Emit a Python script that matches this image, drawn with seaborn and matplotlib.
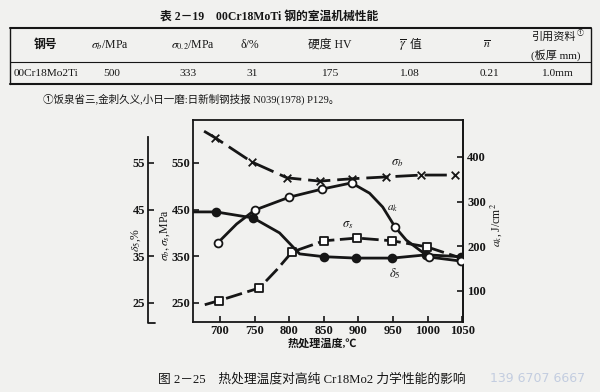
import matplotlib
matplotlib.use("Agg")
import matplotlib.pyplot as plt
from matplotlib.lines import Line2D
import pandas as pd
import seaborn as sns

# ---- table 2-19 ----
table_title = "表 2－19　00Cr18MoTi 钢的室温机械性能"
head_labels = ["钢号", r"$\sigma_b$/MPa", r"$\sigma_{0.2}$/MPa", "δ/%", "硬度 HV", "值", r"$\overline{n}$", "引用资料"]
row_values = ["00Cr18Mo2Ti", "500", "333", "31", "175", "1.08", "0.21", "1.0mm"]
footnote = "①饭泉省三,金刺久义,小日一磨:日新制钢技报 N039(1978) P129。"

# ---- figure 2-25 ----
caption = "图 2－25　热处理温度对高纯 Cr18Mo2 力学性能的影响"
x_ticks = [700, 750, 800, 850, 900, 950, 1000, 1050]
sig_ticks = [250, 350, 450, 550]
delta_ticks = [25, 35, 45, 55]
ak_ticks = [100, 200, 300, 400]

# sigma_b (MPa), x markers
sb_t = [693, 746, 797, 844, 890, 940, 991, 1039]
sb_v = [604, 552, 518, 511, 516, 520, 524, 524]
sb_curve_t = [677]
sb_curve_v = [618]

# sigma_s (MPa), open squares
ss_t = [699, 757, 804, 850, 898, 949, 999]
ss_v = [255, 282, 359, 383, 389, 383, 370]
ss_curve_t = [678, 782, 1048]
ss_curve_v = [246, 321, 346]

# delta_5 (%), filled circles
d5_t = [694, 748, 850, 896, 949, 998, 1048]
d5_v = [44.5, 43.2, 34.9, 34.6, 34.6, 35.3, 34.9]
d5_curve_t = [661, 786, 815]
d5_curve_v = [44.5, 40.0, 35.5]

# a_k (J/cm2), open circles
ak_t = [697, 750, 800, 847, 890, 953, 1002, 1048]
ak_v = [208, 281, 310, 328, 342, 243, 176, 167]
ak_curve_t = [724, 916, 935, 969, 988]
ak_curve_v = [250, 319, 288, 214, 192]

W, H = 600, 392
def fx(x):
    return x / W
def fy(y):
    return 1 - y / H

sns.set_style("ticks")
plt.rcParams["font.family"] = ["Liberation Serif", "Noto Sans CJK SC", "DejaVu Sans"]
plt.rcParams["mathtext.fontset"] = "stix"
plt.rcParams["axes.unicode_minus"] = False
ink = "#161616"
paper = "#f1f1ef"

fig = plt.figure(figsize=(6, 3.92), dpi=100, facecolor=paper)

def hline(x0, x1, y, lw):
    fig.add_artist(Line2D([fx(x0), fx(x1)], [fy(y), fy(y)], color=ink, lw=lw))

def vline(x, y0, y1, lw):
    fig.add_artist(Line2D([fx(x), fx(x)], [fy(y0), fy(y1)], color=ink, lw=lw))

# table
fig.text(fx(269), fy(17), table_title, ha="center", va="center", fontsize=8.5, weight="bold", color=ink)
hline(10, 591, 28, 1.5)
hline(10, 591, 62, 0.8)
hline(10, 591, 84, 1.5)
vline(10, 28, 84, 1.0)
vline(591, 28, 84, 1.0)

head_x = [45, 110, 193, 250, 330, 416, 487, 553]
for i, (x, s) in enumerate(zip(head_x, head_labels)):
    if i == 7:
        fig.text(fx(x), fy(37), s, ha="center", va="center", fontsize=8, color=ink)
        fig.text(fx(x + 24), fy(33), "①", ha="left", va="center", fontsize=5, color=ink)
        fig.text(fx(x + 3), fy(55), "(板厚 mm)", ha="center", va="center", fontsize=8, color=ink)
    else:
        w = "bold" if i == 0 else "normal"
        fig.text(fx(x), fy(45), s, ha="center", va="center", fontsize=8.5, color=ink, weight=w)
fig.text(fx(403), fy(45), r"$\overline{\gamma}$", ha="center", va="center", fontsize=9, color=ink)

row_x = [46, 112, 188, 252, 330, 409, 490, 557]
for x, s in zip(row_x, row_values):
    fig.text(fx(x), fy(73), s, ha="center", va="center", fontsize=8.2, color=ink)

fig.text(fx(43), fy(99), footnote, ha="left", va="center", fontsize=7.6, color=ink)

# chart axes
ax = fig.add_axes([fx(193), fy(322), (463 - 193) / W, (322 - 120) / H])
ax.set_facecolor("none")
ax_d = ax.twinx()
ax_a = ax.twinx()


def draw(axis, t, v, ct, cv, dash, marker, face, size):
    line = pd.DataFrame({"t": t + ct, "v": v + cv}).sort_values("t")
    sns.lineplot(data=line, x="t", y="v", ax=axis, color=ink, lw=2.0,
                 linestyle=dash, estimator=None, sort=True)
    sns.scatterplot(x=t, y=v, ax=axis, marker=marker, s=size, color=face,
                    edgecolor=ink, linewidth=1.3, zorder=5)
    axis.set_xlabel("")
    axis.set_ylabel("")


draw(ax, sb_t, sb_v, sb_curve_t, sb_curve_v, (0, (8, 2.5)), "x", ink, 30)
draw(ax, ss_t, ss_v, ss_curve_t, ss_curve_v, (0, (6, 2)), "s", "white", 38)
draw(ax_d, d5_t, d5_v, d5_curve_t, d5_curve_v, "-", "o", ink, 32)
draw(ax_a, ak_t, ak_v, ak_curve_t, ak_curve_v, "-", "o", "white", 32)

ax.set_xlim(661, 1051)
ax.set_ylim(209, 642)
ax.set_xticks(x_ticks)
ax.set_yticks(sig_ticks)
ax.tick_params(direction="in", length=4, width=1.2, colors=ink, pad=2, labelsize=9)
for sp in ax.spines.values():
    sp.set_linewidth(1.3)
    sp.set_color(ink)

ax_d.set_ylim(20.9, 64.2)
ax_d.yaxis.tick_left()
ax_d.set_yticks(delta_ticks)
ax_d.tick_params(axis="y", direction="in", length=4, width=1.2, colors=ink, pad=2, labelsize=9)
for k in ["right", "top", "bottom"]:
    ax_d.spines[k].set_visible(False)
ax_d.spines["left"].set_visible(True)
ax_d.spines["left"].set_position(("axes", -45 / 270))
ax_d.spines["left"].set_bounds(20.9, 60.6)
ax_d.spines["left"].set_linewidth(1.3)
ax_d.spines["left"].set_color(ink)
hline(148, 155, 322.5, 1.3)

ax_a.set_ylim(30.6, 482.8)
ax_a.set_yticks(ak_ticks)
ax_a.tick_params(axis="y", direction="in", length=4, width=1.2, colors=ink, pad=3, labelsize=9)
for k in ["left", "top", "bottom"]:
    ax_a.spines[k].set_visible(False)
ax_a.spines["right"].set_linewidth(1.3)
ax_a.spines["right"].set_color(ink)

for a in [ax, ax_d, ax_a]:
    for lab in a.get_xticklabels() + a.get_yticklabels():
        lab.set_fontweight("bold")

# curve names
ax.text(956, 550, r"$\sigma_b$", fontsize=9, ha="center", va="center", color=ink)
ax.text(949, 452, r"$a_k$", fontsize=8, ha="center", va="center", color=ink)
ax.text(884, 417, r"$\sigma_s$", fontsize=9, ha="center", va="center", color=ink)
ax.text(952, 312, r"$\delta_5$", fontsize=9, ha="center", va="center", color=ink)

# axis titles
fig.text(fx(136), fy(240), r"$\delta_5$,%", rotation=90, ha="center", va="center", fontsize=8.5, color=ink)
fig.text(fx(165), fy(235), r"$\sigma_b,\sigma_s$,MPa", rotation=90, ha="center", va="center", fontsize=8.5, color=ink)
fig.text(fx(496), fy(225), r"$a_k$, J/cm$^2$", rotation=90, ha="center", va="center", fontsize=8.5, color=ink)
fig.text(fx(322), fy(343), "热处理温度,℃", ha="center", va="center", fontsize=8, weight="bold", color=ink)

fig.text(fx(312), fy(379), caption, ha="center", va="center", fontsize=9.2, color=ink)
fig.text(fx(538), fy(378), "139 6707 6667", ha="center", va="center", fontsize=9,
         color="#c3cde0", family="DejaVu Sans")

fig.savefig("out.png", dpi=100, facecolor=paper)
